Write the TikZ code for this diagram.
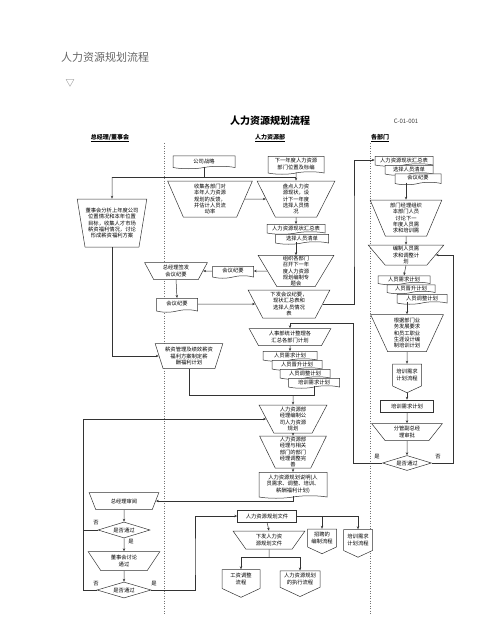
\documentclass[tikz,border=0pt]{standalone}
\usepackage{fontspec}
\setmainfont{Noto Sans CJK SC}
\usetikzlibrary{shapes.geometric,shapes.symbols,arrows.meta,calc}
\begin{document}
\begin{tikzpicture}[x=1pt,y=-1pt,
 base/.style={draw=black!80, line width=0.5pt, font=\fontsize{5.3}{6.4}\selectfont, inner sep=0.3pt, align=center, fill=white},
 tz/.style={base, trapezium, shape border rotate=180, trapezium stretches=true},
 doc/.style={base, tape, tape bend top=none, tape bend height=2.5pt},
 box/.style={base, rectangle},
 off/.style={base, signal, signal to=south, signal pointer angle=130},
 dia/.style={base, diamond, aspect=3.2, inner sep=0pt},
 arr/.style={draw=black!80, line width=0.5pt, -{Stealth[length=3pt,width=2.4pt]}},
 ln/.style={draw=black!80, line width=0.5pt},
 lane/.style={draw=black!55, line width=0.5pt, dash pattern=on 1pt off 1.5pt},
 lbl/.style={font=\fontsize{5.3}{6}\selectfont, inner sep=0pt}
]
\useasboundingbox (0,0) rectangle (500,637);
% page title
\node[anchor=west, font=\fontsize{11}{12}\selectfont, text=black!60, inner sep=0pt] (pt) at (61,57) {人力资源规划流程};
\node[font=\fontsize{9}{10}\selectfont, text=black!60, inner sep=0pt] (tri) at (70,83) {▽};
% chart title
\node[font=\bfseries\fontsize{10}{11}\selectfont, inner sep=0pt] (ct) at (270,121) {人力资源规划流程};
\node[font=\fontsize{6}{7}\selectfont, text=black!75, inner sep=0pt] (code) at (406,121) {C-01-001};
\node[font=\bfseries\fontsize{6}{7}\selectfont, inner sep=0pt] (h1) at (110,138) {\underline{总经理/董事会}};
\node[font=\bfseries\fontsize{6}{7}\selectfont, inner sep=0pt] (h2) at (270,138) {\underline{人力资源部}};
\node[font=\bfseries\fontsize{6}{7}\selectfont, inner sep=0pt] (h3) at (380,138) {\underline{各部门}};
\draw[lane] (164,143) -- (164,614);
\draw[lane] (370,143) -- (370,614);

% ---------- HR column ----------
\node[doc, minimum width=62, minimum height=13] (zl) at (204,161) {公司战略};
\node[doc, minimum width=56, minimum height=18] (xyn) at (296,164) {下一年度人力资源\\部门位置及标编};
\node[tz, trapezium angle=73, minimum width=85, minimum height=36] (sj) at (210,199) {收集各部门对\\本年人力资源\\规划的反馈，\\并估计人员流\\动率};
\node[tz, trapezium angle=69, minimum width=78, minimum height=36] (pd) at (296,199) {盘点人力资\\源现状，设\\计下一年度\\选择人员情\\况};
\node[doc, minimum width=58, minimum height=10] (hr1) at (296,228) {人力资源现状汇总表};
\node[doc, minimum width=53, minimum height=10] (hr2) at (302,238) {选择人员清单};
\node[tz, trapezium angle=67, minimum width=76, minimum height=28] (zz) at (296,271) {组织各部门\\召开下一年\\度人力资源\\规划编制专\\题会};
\node[tz, trapezium angle=67, minimum width=82, minimum height=28] (xf) at (289,304) {下发会议纪要，\\现状汇总表和\\选择人员情况\\表};
\node[doc, minimum width=41, minimum height=12] (hy) at (233,271) {会议纪要};
\node[tz, trapezium angle=62, minimum width=82, minimum height=17] (rs) at (290,337) {人事部统计整理各\\汇总各部门计划};
\node[doc, minimum width=54, minimum height=10] (d1) at (290,355) {人员需求计划};
\node[doc, minimum width=50, minimum height=10] (d2) at (297,364) {人员晋升计划};
\node[doc, minimum width=50, minimum height=10] (d3) at (305,373) {人员调整计划};
\node[doc, minimum width=51, minimum height=10] (d4) at (314,382) {培训需求计划};
\node[tz, trapezium angle=67, minimum width=68, minimum height=28] (bz2) at (293,419) {人力资源部\\经理编制公\\司人力资源\\规划};
\node[tz, trapezium angle=69, minimum width=67, minimum height=32] (yt) at (293,452) {人力资源部\\经理与相关\\部门的部门\\经理调整完\\善};
\node[doc, minimum width=68, minimum height=26] (sm) at (293,484) {人力资源规划说明(人\\员需求、调整、培训、\\薪酬福利计划)};

% ---------- left column ----------
\node[tz, trapezium angle=76, minimum width=70, minimum height=48] (dsh) at (112,223) {董事会分析上年度公司\\位置情况和本年位置\\目标，收集人才市场\\薪资福利情况，讨论\\形成薪资福利方案};
\node[tz, trapezium angle=65, minimum width=63, minimum height=17] (qf) at (176,271) {总经理签发\\会议纪要};
\node[doc, minimum width=41, minimum height=14] (hyd) at (177,304) {会议纪要};
\node[tz, trapezium angle=68, minimum width=68, minimum height=25] (xz) at (189,356) {薪资管理及绩效薪资\\福利方案制定薪\\酬福利计划};
\node[tz, trapezium angle=60, minimum width=70, minimum height=17] (zjl) at (124,501) {总经理审阅};
\node[dia, minimum width=52, minimum height=16] (dm1) at (124,530) {是否通过};
\node[tz, trapezium angle=58, minimum width=72, minimum height=19] (dsht) at (124,561) {董事会讨论\\通过};
\node[dia, minimum width=54, minimum height=16] (dm2) at (124,590) {是否通过};

% ---------- bottom HR ----------
\node[box, minimum width=59, minimum height=12] (wj) at (267,516) {人力资源规划文件};
\node[tz, trapezium angle=58, minimum width=72, minimum height=18] (xfwj) at (269,540) {下发人力资\\源规划文件};
\node[off, minimum width=29, minimum height=23] (zp) at (322,538) {招聘的\\编制流程};
\node[off, minimum width=29, minimum height=26] (px) at (358,540) {培训需求\\计划流程};
\node[off, minimum width=38, minimum height=24] (gz) at (241,579) {工资调整\\流程};
\node[off, minimum width=40, minimum height=24] (zx) at (300,579) {人力资源规划\\的执行流程};

% ---------- department column ----------
\node[doc, minimum width=58, minimum height=10] (dd1) at (404,160) {人力资源现状汇总表};
\node[doc, minimum width=48, minimum height=10] (dd2) at (409,169) {选择人员清单};
\node[doc, minimum width=46, minimum height=11] (dd3) at (418,178) {会议纪要};
\node[tz, trapezium angle=69, minimum width=72, minimum height=36] (bm) at (406,218) {部门经理组织\\本部门人员\\讨论下一\\年度人员需\\求和培训需};
\node[tz, trapezium angle=59, minimum width=76, minimum height=20] (bzr) at (406,255) {编制人员需\\求和调整计\\划};
\node[doc, minimum width=52, minimum height=9] (dp1) at (404,279) {人员需求计划};
\node[doc, minimum width=48, minimum height=9] (dp2) at (411,288) {人员晋升计划};
\node[doc, minimum width=50, minimum height=10] (dp3) at (422,298) {人员调整计划};
\node[tz, trapezium angle=69, minimum width=73, minimum height=37] (gj) at (407,333) {根据部门业\\务发展要求\\和员工职业\\生涯设计编\\制培训计划};
\node[off, minimum width=29, minimum height=27] (pxl) at (407,375) {培训需求\\计划流程};
\node[box, minimum width=53, minimum height=12] (pxj) at (407,406) {培训需求计划};
\node[tz, trapezium angle=55, minimum width=71, minimum height=17] (fg) at (407,432) {分管副总经\\理审批};
\node[dia, minimum width=49, minimum height=15] (dm3) at (407,463) {是否通过};

% ---------- connectors ----------
\coordinate (j1) at (204,177);
\coordinate (j1l) at (112,177);
\coordinate (j1r) at (296,177);
\draw[ln] (zl.south) -- (j1);
\draw[ln] (j1l) -- (j1r);
\draw[arr] (j1l) -- (dsh.north);
\draw[arr] (xyn.south) -- (pd.north);
\draw[arr] (sj.east) -- (pd.west);
\draw[arr] (pd.south) -- (hr1.north);
\draw[arr] (zz.north |- hr2.south) -- (zz.north);
\draw[arr] (zz.west) -- (hy.east);
\draw[arr] (hy.west) -- (qf.east);
\draw[arr] (qf.south) -- (hyd.north);
\draw[arr] (hyd.east) -- (xf.west);
\coordinate (c2) at (354,230);
\draw[arr] (xf.east) -| (c2) |- (dd1.west);
\draw[arr] (bm.north |- dd3.south) -- (bm.north);
\draw[arr] (bm.south) -- (bzr.north);
\draw[arr] (bzr.south) -- (dp1.north);
\draw[arr] (gj.north |- dp3.south) -- (gj.north);
\draw[arr] (gj.south) -- (pxl.north);
\draw[arr] (pxl.south) -- (pxj.north);
\draw[arr] (pxj.south) -- (fg.north);
\draw[arr] (fg.south) -- (dm3.north);
\coordinate (c1) at (453,463);
\draw[arr] (dm3.east) -- (c1) |- (bzr.east);
\coordinate (c3) at (353,323);
\draw[arr] (dm3.west) -| (c3) -| (rs.north);
\node[lbl] (y3) at (377,457) {是};
\node[lbl] (n3) at (438,457) {否};
\draw[arr] (dsh.south) |- (xz.west);
\draw[arr] (rs.south) -- (d1.north);
\coordinate (c4) at (293,395);
\draw[ln] (d4.south) |- (c4);
\draw[ln] (xz.south) |- (c4);
\draw[arr] (c4) -- (bz2.north);
\draw[arr] (bz2.south) -- (yt.north);
\draw[arr] (yt.south) -- (sm.north);
\draw[arr] (sm.south) |- (zjl.east);
\draw[arr] (zjl.south) -- (dm1.north);
\draw[arr] (dm1.south) -- (dsht.north);
\draw[arr] (dsht.south) -- (dm2.north);
\coordinate (c5) at (83,590);
\draw[arr] (dm2.west) -- (c5) |- (bz2.west);
\draw[ln] (dm1.west) -- (dm1.west -| c5);
\node[lbl] (n1) at (96,523) {否};
\node[lbl] (y1) at (131,542) {是};
\node[lbl] (n2) at (96,584) {否};
\node[lbl] (y2) at (154,584) {是};
\coordinate (c6) at (195,560);
\draw[arr] (dm2.east) -| (c6) |- (wj.west);
\draw[arr] (wj.south) -- (xfwj.north);
\coordinate (c7) at (358,516);
\draw[ln] (wj.east) -- (c7);
\draw[arr] (c7) -- (px.north);
\draw[arr] (zp.north |- c7) -- (zp.north);
\coordinate (c8) at (269,557);
\draw[ln] (xfwj.south) -- (c8);
\draw[ln] (gz.north |- c8) -- (zx.north |- c8);
\draw[arr] (gz.north |- c8) -- (gz.north);
\draw[arr] (zx.north |- c8) -- (zx.north);
\end{tikzpicture}
\end{document}
